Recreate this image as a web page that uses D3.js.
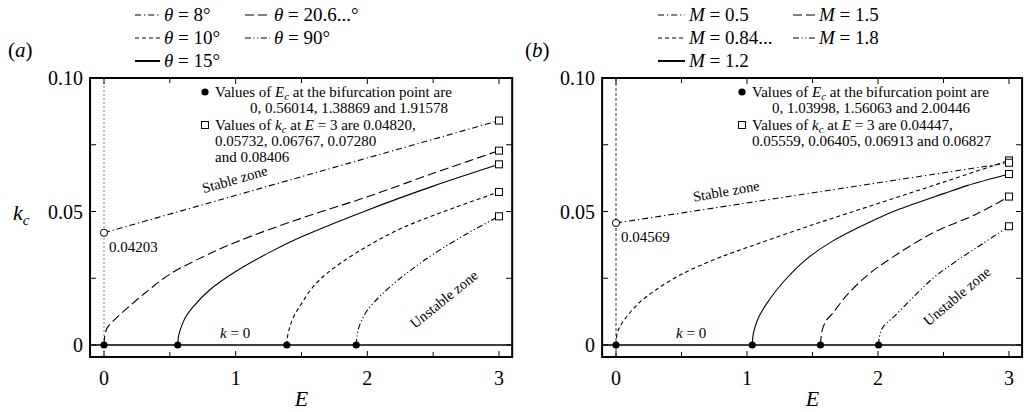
<!DOCTYPE html>
<html>
<head>
<meta charset="utf-8">
<script src="https://cdn.jsdelivr.net/npm/d3@7"></script>
<style>
  html, body { margin: 0; padding: 0; background: #fff; }
  svg text { font-family: "Liberation Serif", Tinos, "Times New Roman", "DejaVu Serif", serif; }
</style>
</head>
<body>
<svg id="chart" width="1027" height="412" font-family="Liberation Serif, Tinos, Times New Roman, DejaVu Serif, serif"></svg>
<script>
// ---- data ---------------------------------------------------------------
const xTicks = [0, 1, 2, 3];
const xTickLabels = ["0", "1", "2", "3"];
const yTicks = [0, 0.05, 0.10];
const yTickLabels = ["0", "0.05", "0.10"];

// panel (a): curves for different angles θ
const thetaLabels = ["8°", "10°", "15°", "20.6...°", "90°"];
const thetaE = [
  [0, 3],
  [1.38869, 1.395, 1.41, 1.44, 1.5, 1.6, 1.75, 2.0, 2.25, 2.5, 2.75, 3],
  [0.56014, 0.567, 0.585, 0.62, 0.68, 0.8, 1.0, 1.25, 1.5, 2.0, 2.5, 3],
  [0, 0.006, 0.025, 0.08, 0.17, 0.3, 0.5, 0.75, 1.0, 1.5, 2.0, 2.5, 3],
  [1.91578, 1.922, 1.935, 1.96, 2.0, 2.1, 2.25, 2.37, 2.5, 2.75, 3]
];
const thetaK = [
  [0.04203, 0.08406],
  [0, 0.0035, 0.0065, 0.0105, 0.0155, 0.0225, 0.029, 0.037, 0.0435, 0.0485, 0.053, 0.05732],
  [0, 0.0035, 0.0065, 0.0105, 0.0145, 0.0205, 0.0275, 0.0345, 0.0405, 0.0505, 0.0595, 0.06767],
  [0, 0.0035, 0.0065, 0.0095, 0.0135, 0.019, 0.0265, 0.033, 0.0385, 0.0475, 0.0555, 0.0643, 0.0728],
  [0, 0.0035, 0.0065, 0.0095, 0.013, 0.0185, 0.025, 0.0295, 0.034, 0.0415, 0.0482]
];
const thetaStyles = ["dashdot", "short", "solid", "long", "dashdotdot"];
const thetaEc = [0, 0.56014, 1.38869, 1.91578];
const thetaKc3 = [0.04820, 0.05732, 0.06767, 0.07280, 0.08406];
const thetaK0 = 0.04203;

// panel (b): curves for different M
const mLabels = ["0.5", "0.84...", "1.2", "1.5", "1.8"];
const mE = [
  [0, 3],
  [0, 0.006, 0.025, 0.08, 0.17, 0.3, 0.5, 0.75, 1.0, 1.5, 2.0, 2.5, 3],
  [1.03998, 1.046, 1.06, 1.09, 1.15, 1.275, 1.45, 1.656, 2.0, 2.17, 2.5, 2.68, 3],
  [1.56063, 1.567, 1.58, 1.61, 1.656, 1.75, 1.916, 2.1, 2.42, 2.75, 3],
  [2.00446, 2.01, 2.025, 2.05, 2.12, 2.25, 2.42, 2.6, 2.8, 3]
];
const mK = [
  [0.04569, 0.06827],
  [0, 0.0035, 0.0065, 0.0105, 0.0155, 0.0205, 0.0265, 0.032, 0.0365, 0.045, 0.053, 0.061, 0.06913],
  [0, 0.0035, 0.0065, 0.0105, 0.0155, 0.0235, 0.032, 0.039, 0.0475, 0.051, 0.0567, 0.0597, 0.06405],
  [0, 0.0035, 0.0065, 0.0095, 0.012, 0.018, 0.026, 0.0325, 0.042, 0.049, 0.05559],
  [0, 0.003, 0.0055, 0.0075, 0.0105, 0.017, 0.025, 0.0315, 0.038, 0.04447]
];
const mStyles = ["dashdot", "short", "solid", "long", "dashdotdot"];
const mEc = [0, 1.03998, 1.56063, 2.00446];
const mKc3 = [0.04447, 0.05559, 0.06405, 0.06913, 0.06827];
const mK0 = 0.04569;

// ---- drawing -----------------------------------------------------------
const dashes = {
  solid: null,
  short: "4,3",
  long: "9,4",
  dashdot: "6,3,1.2,3",
  dashdotdot: "6,2.5,1.2,2.5,1.2,2.5"
};

const svg = d3.select("#chart");

// rich text: parts are {t, i (italic), sub (subscript), back (return to baseline)}
function richText(sel, parts) {
  parts.forEach(p => {
    const t = sel.append("tspan").text(p.t);
    if (p.i) t.attr("font-style", "italic");
    if (p.sub) t.attr("font-size", "0.72em").attr("dy", "0.25em");
    if (p.back) t.attr("dy", "-0.18em");
  });
}

function panel(opt) {
  const x = d3.scaleLinear().domain([0, 3]).range(opt.xr);
  const y = d3.scaleLinear().domain([0, 0.1]).range([345, 78]);
  const left = x(-0.106), right = x(3.1), top = y(0.1), bottom = y(-0.0045);
  const g = svg.append("g");

  const clipId = "clip-" + opt.id;
  svg.append("defs").append("clipPath").attr("id", clipId)
    .append("rect").attr("x", left).attr("y", top)
    .attr("width", right - left).attr("height", bottom - top);
  const plot = g.append("g").attr("clip-path", `url(#${clipId})`);

  // vertical reference line at E = 0
  plot.append("line")
    .attr("x1", x(0)).attr("x2", x(0)).attr("y1", top).attr("y2", bottom)
    .attr("stroke", opt.vColor).attr("stroke-width", opt.vWidth)
    .attr("stroke-dasharray", opt.vDash);

  // k = 0 line
  plot.append("line")
    .attr("x1", left).attr("x2", right).attr("y1", y(0)).attr("y2", y(0))
    .attr("stroke", "#000").attr("stroke-width", 1.4);

  const line = d3.line().curve(d3.curveCatmullRom.alpha(0.5));
  opt.E.forEach((es, i) => {
    const pts = es.map((e, j) => [x(e), y(opt.K[i][j])]);
    plot.append("path").attr("d", line(pts))
      .attr("fill", "none").attr("stroke", "#000").attr("stroke-width", 1.1)
      .attr("stroke-dasharray", dashes[opt.styles[i]]);
  });

  // bifurcation points
  plot.selectAll("circle.ec").data(opt.Ec).join("circle")
    .attr("cx", d => x(d)).attr("cy", y(0)).attr("r", 3.6).attr("fill", "#000");
  // k_c at E = 3
  plot.selectAll("rect.kc").data(opt.Kc3).join("rect")
    .attr("x", x(3) - 3.5).attr("y", d => y(d) - 3.5)
    .attr("width", 7).attr("height", 7)
    .attr("fill", "#fff").attr("stroke", "#000").attr("stroke-width", 1);
  // value at E = 0
  plot.append("circle").attr("cx", x(0)).attr("cy", y(opt.K0)).attr("r", 3.6)
    .attr("fill", "#fff").attr("stroke", "#000").attr("stroke-width", 1);
  g.append("text").attr("x", x(0) + 5).attr("y", y(opt.K0) + 19)
    .attr("font-size", 15).text(opt.K0.toFixed(5));

  // frame
  g.append("rect").attr("x", left).attr("y", top)
    .attr("width", right - left).attr("height", bottom - top)
    .attr("fill", "none").attr("stroke", "#000").attr("stroke-width", 2);

  // ticks (inward on all sides)
  d3.range(0, 3.01, 0.5).forEach(v => {
    const len = Number.isInteger(v) ? 6 : 5;
    g.append("line").attr("x1", x(v)).attr("x2", x(v))
      .attr("y1", bottom).attr("y2", bottom - len).attr("stroke", "#000").attr("stroke-width", 1);
    g.append("line").attr("x1", x(v)).attr("x2", x(v))
      .attr("y1", top).attr("y2", top + len).attr("stroke", "#000").attr("stroke-width", 1);
  });
  d3.range(0, 0.1001, 0.025).forEach(v => {
    g.append("line").attr("x1", left).attr("x2", left + 6)
      .attr("y1", y(v)).attr("y2", y(v)).attr("stroke", "#000").attr("stroke-width", 1);
    g.append("line").attr("x1", right).attr("x2", right - 6)
      .attr("y1", y(v)).attr("y2", y(v)).attr("stroke", "#000").attr("stroke-width", 1);
  });

  // tick labels
  g.selectAll("text.xt").data(xTicks).join("text")
    .attr("x", d => x(d)).attr("y", 385).attr("text-anchor", "middle")
    .attr("font-size", 20).text((d, i) => xTickLabels[i]);
  g.selectAll("text.yt").data(yTicks).join("text")
    .attr("x", left - 7).attr("y", d => y(d) + 7).attr("text-anchor", "end")
    .attr("font-size", 20).text((d, i) => yTickLabels[i]);

  // axis title
  g.append("text").attr("x", (x(0) + x(3)) / 2).attr("y", 406)
    .attr("text-anchor", "middle").attr("font-size", 22).attr("font-style", "italic").text("E");

  // panel tag
  const tag = g.append("text").attr("x", opt.tagX).attr("y", 57).attr("font-size", 21);
  tag.append("tspan").text("(");
  tag.append("tspan").attr("font-style", "italic").text(opt.tag);
  tag.append("tspan").text(")");

  // k = 0 annotation
  const k0 = g.append("text").attr("x", opt.k0x).attr("y", 338).attr("font-size", 15);
  k0.append("tspan").attr("font-style", "italic").text("k");
  k0.append("tspan").text(" = 0");

  // zone labels
  g.append("text").attr("font-size", 14.5)
    .attr("transform", `translate(${opt.stable[0]},${opt.stable[1]}) rotate(${opt.stable[2]})`)
    .attr("text-anchor", "middle").text("Stable zone");
  g.append("text").attr("font-size", 14.5)
    .attr("transform", `translate(${opt.unstable[0]},${opt.unstable[1]}) rotate(${opt.unstable[2]})`)
    .attr("text-anchor", "middle").text("Unstable zone");

  // legend
  const lg = g.append("g");
  opt.labels.forEach((lab, i) => {
    const col = i < 3 ? 0 : 1;
    const row = i < 3 ? i : i - 3;
    const lx = opt.legX[col], ly = [15, 38, 61][row];
    lg.append("line").attr("x1", lx).attr("x2", lx + opt.legLen[col])
      .attr("y1", ly).attr("y2", ly).attr("stroke", "#000")
      .attr("stroke-width", opt.styles[i] === "solid" ? 2 : 1.1)
      .attr("stroke-dasharray", dashes[opt.styles[i]]);
    const t = lg.append("text").attr("x", lx + opt.legLen[col] + 4).attr("y", ly + 6)
      .attr("font-size", 19);
    t.append("tspan").attr("font-style", "italic").text(opt.sym);
    t.append("tspan").text(opt.eq + lab);
  });

  // notes
  const nf = 15;
  g.append("circle").attr("cx", opt.noteX - 10).attr("cy", 92).attr("r", 3.6).attr("fill", "#000");
  const n1 = g.append("text").attr("x", opt.noteX).attr("y", 97).attr("font-size", nf);
  richText(n1, [{t: "Values of "}, {t: "E", i: true}, {t: "c", i: true, sub: true},
                {t: " at the bifurcation point are", back: true}]);
  g.append("text").attr("x", opt.note2X).attr("y", 113).attr("font-size", nf).text(opt.note2);
  g.append("rect").attr("x", opt.noteX - 13.5).attr("y", 121.5).attr("width", 7).attr("height", 7)
    .attr("fill", "#fff").attr("stroke", "#000").attr("stroke-width", 1);
  const n3 = g.append("text").attr("x", opt.noteX).attr("y", 130).attr("font-size", nf);
  richText(n3, [{t: "Values of "}, {t: "k", i: true}, {t: "c", i: true, sub: true},
                {t: " at ", back: true}, {t: "E", i: true}, {t: " = 3 are " + opt.note3}]);
  opt.noteRest.forEach((s, i) => {
    g.append("text").attr("x", opt.noteX).attr("y", 146 + 16 * i).attr("font-size", nf).text(s);
  });

  return {x, y};
}

panel({
  id: "a", xr: [104, 499], tag: "a", tagX: 8,
  E: thetaE, K: thetaK, styles: thetaStyles, Ec: thetaEc, Kc3: thetaKc3, K0: thetaK0,
  vColor: "#999", vWidth: 1.2, vDash: "2,2",
  k0x: 220, stable: [236, 184, -16], unstable: [447, 303, -39],
  labels: thetaLabels, sym: "θ", eq: " = ", legX: [135, 245], legLen: [25, 25],
  noteX: 215, note2X: 250, note2: "0, 0.56014, 1.38869 and 1.91578",
  note3: "0.04820,", noteRest: ["0.05732, 0.06767, 0.07280", "and 0.08406"]
});

panel({
  id: "b", xr: [616, 1009], tag: "b", tagX: 525,
  E: mE, K: mK, styles: mStyles, Ec: mEc, Kc3: mKc3, K0: mK0,
  vColor: "#000", vWidth: 0.8, vDash: "3,2",
  k0x: 676, stable: [727, 196, -10], unstable: [960, 300, -40],
  labels: mLabels, sym: "M", eq: " = ", legX: [658, 793], legLen: [27, 22],
  noteX: 752, note2X: 772, note2: "0, 1.03998, 1.56063 and 2.00446",
  note3: "0.04447,", noteRest: ["0.05559, 0.06405, 0.06913 and 0.06827"]
});

// y-axis title (left panel only)
const yl = svg.append("text").attr("x", 13).attr("y", 220).attr("font-size", 22);
yl.append("tspan").attr("font-style", "italic").text("k");
yl.append("tspan").attr("font-style", "italic").attr("font-size", 15).attr("dy", 5).text("c");
</script>
</body>
</html>
